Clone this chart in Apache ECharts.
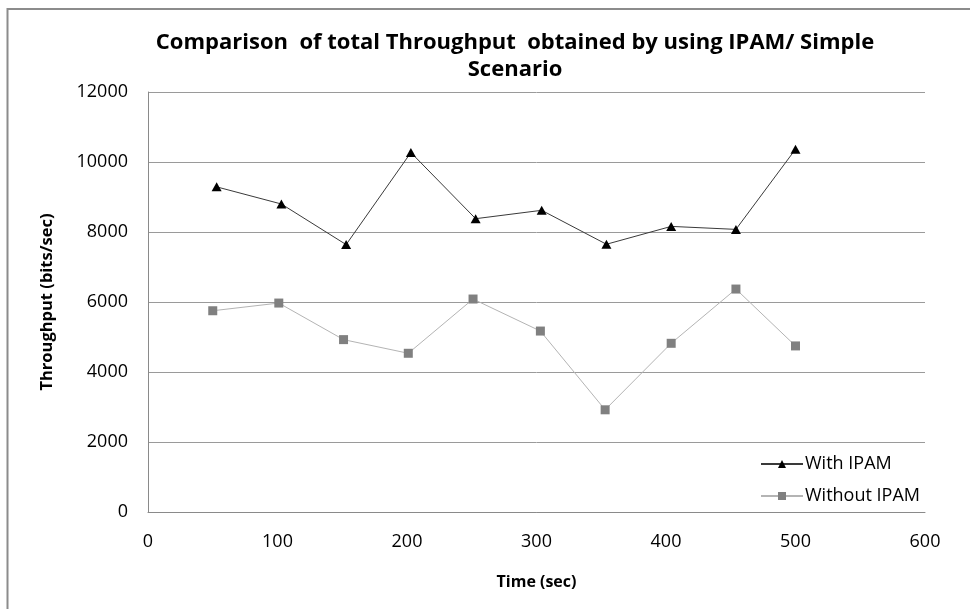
<!DOCTYPE html>
<html>
<head>
<meta charset="utf-8">
<script src="https://cdn.jsdelivr.net/npm/echarts@6/dist/echarts.min.js"></script>
<style>
  html, body { margin: 0; padding: 0; background: #fff; }
  #chart { width: 970px; height: 609px; }
</style>
</head>
<body>
<div id="chart"></div>
<script>
// Sample times (sec) and measured throughput (bits/sec) for each configuration
const timeWithIpam = [53, 103, 153, 203, 253, 304, 354, 404, 454, 500];
const withIpam = [9290, 8800, 7640, 10270, 8380, 8620, 7650, 8160, 8075, 10365];
const timeWithoutIpam = [50, 101, 151, 201, 251, 303, 353, 404, 454, 500];
const withoutIpam = [5750, 5970, 4925, 4535, 6085, 5170, 2920, 4820, 6370, 4745];

const xTicks = { min: 0, max: 600, step: 100 };
const yTicks = { min: 0, max: 12000, step: 2000 };

const titleLines = [
  'Comparison  of total Throughput  obtained by using IPAM/ Simple',
  'Scenario'
];

const font = "'Open Sans', 'Noto Sans', sans-serif";

function pairs(xs, ys) {
  return xs.map((x, i) => [x, ys[i]]);
}

const chart = echarts.init(document.getElementById('chart'), null, { renderer: 'canvas' });

chart.setOption({
  backgroundColor: '#ffffff',
  animation: false,
  graphic: [
    {
      type: 'polyline',
      silent: true,
      shape: { points: [[7.5, 609], [7.5, 9], [970, 9]] },
      style: { stroke: '#8c8c8c', lineWidth: 2, fill: null }
    },
    {
      type: 'text',
      silent: true,
      x: 515,
      y: 56,
      style: {
        text: titleLines.join('\n'),
        align: 'center',
        verticalAlign: 'middle',
        fontFamily: font,
        fontWeight: 'bold',
        fontSize: 22,
        lineHeight: 27,
        fill: '#000'
      }
    }
  ],
  grid: {
    left: 148,
    right: 45,
    top: 92,
    bottom: 97
  },
  legend: {
    orient: 'vertical',
    left: 755,
    top: 450,
    itemWidth: 42,
    itemHeight: 10,
    itemGap: 14,
    textStyle: {
      fontFamily: font,
      fontSize: 18,
      color: '#000',
      padding: [0, 0, 0, -3]
    },
    data: ['With IPAM', 'Without IPAM']
  },
  xAxis: {
    type: 'value',
    min: xTicks.min,
    max: xTicks.max,
    interval: xTicks.step,
    name: 'Time (sec)',
    nameLocation: 'middle',
    nameGap: 62,
    nameTextStyle: {
      fontFamily: font,
      fontWeight: 'bold',
      fontSize: 16,
      color: '#000'
    },
    axisLine: { show: true, lineStyle: { color: '#8a8a8a', width: 1 } },
    axisTick: { show: false },
    axisLabel: {
      margin: 21,
      fontFamily: font,
      fontSize: 18,
      color: '#000',
      formatter: (v) => String(v)
    },
    splitLine: { show: false }
  },
  yAxis: {
    type: 'value',
    min: yTicks.min,
    max: yTicks.max,
    interval: yTicks.step,
    name: 'Throughput (bits/sec)',
    nameLocation: 'middle',
    nameGap: 92,
    nameRotate: 90,
    nameTextStyle: {
      fontFamily: font,
      fontWeight: 'bold',
      fontSize: 16.5,
      color: '#000'
    },
    axisLine: { show: true, lineStyle: { color: '#8a8a8a', width: 1 } },
    axisTick: { show: false },
    axisLabel: {
      margin: 20,
      fontFamily: font,
      fontSize: 18,
      color: '#000',
      formatter: (v) => String(v)
    },
    splitLine: { show: true, lineStyle: { color: '#9a9a9a', width: 1 } }
  },
  series: [
    {
      name: 'With IPAM',
      type: 'line',
      data: pairs(timeWithIpam, withIpam),
      symbol: 'triangle',
      symbolSize: [10, 9],
      lineStyle: { color: '#3a3a3a', width: 1 },
      itemStyle: { color: '#000000' },
      z: 3
    },
    {
      name: 'Without IPAM',
      type: 'line',
      data: pairs(timeWithoutIpam, withoutIpam),
      symbol: 'rect',
      symbolSize: 9,
      lineStyle: { color: '#b4b4b4', width: 1 },
      itemStyle: { color: '#808080' },
      z: 2
    }
  ]
});
</script>
</body>
</html>
